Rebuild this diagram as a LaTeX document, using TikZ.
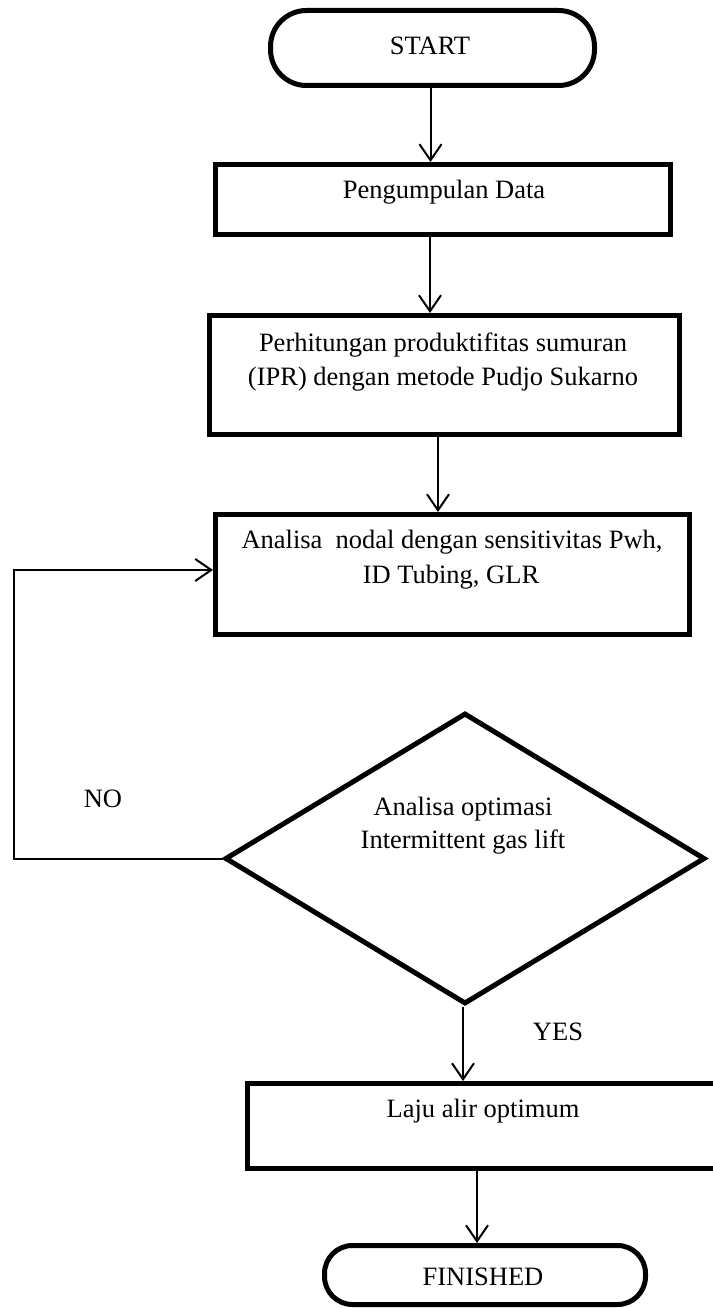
\documentclass[tikz,border=0pt]{standalone}
\usepackage{fontspec}
\setmainfont{Liberation Serif}
\usetikzlibrary{arrows.meta,shapes.geometric}
\begin{document}
\begin{tikzpicture}[x=1pt,y=-1pt,
  box/.style={draw, line width=5pt, inner sep=0pt},
  dec/.style={draw, diamond, line width=5pt, inner sep=0pt},
  txt/.style={font=\fontsize{26.5}{34}\selectfont, inner sep=0pt, anchor=base},
  conn/.style={line width=2pt, -{Straight Barb[length=16pt,width=22pt,line width=2pt]}}]
\useasboundingbox (0,0) rectangle (712,1308);

% shapes
\node[box, rounded corners=36pt, minimum width=324pt, minimum height=75pt] (start) at (432.5,48) {};
\node[box, minimum width=455pt, minimum height=70pt] (b1) at (443,199.5) {};
\node[box, minimum width=470pt, minimum height=119pt] (b2) at (444.5,375) {};
\node[box, minimum width=474pt, minimum height=120pt] (b3) at (452.5,574.5) {};
\node[dec, minimum width=480pt, minimum height=291pt] (dia) at (465,858.5) {};
\node[box, minimum width=510pt, minimum height=85pt] (b4) at (502.5,1126) {};
\node[box, rounded corners=28pt, minimum width=321pt, minimum height=59pt] (fin) at (485,1275) {};

% texts
\node[txt] (tstart) at (430,55) {START};
\node[txt] (t1) at (444,198) {Pengumpulan Data};
\node[txt] (t2a) at (443,351) {Perhitungan produktifitas sumuran};
\node[txt] (t2b) at (443,385) {(IPR) dengan metode Pudjo Sukarno};
\node[txt] (t3a) at (452,548) {Analisa~ nodal dengan sensitivitas Pwh,};
\node[txt] (t3b) at (451,583) {ID Tubing, GLR};
\node[txt] (tda) at (463,815) {Analisa optimasi};
\node[txt] (tdb) at (463,848) {Intermittent gas lift};
\node[txt] (tno) at (103,807) {NO};
\node[txt] (tyes) at (558,1040) {YES};
\node[txt] (t4) at (483,1117) {Laju alir optimum};
\node[txt] (tfin) at (483,1285) {FINISHED};

% connectors
\coordinate (loopx) at (14,0);
\draw[conn] ([xshift=-2pt]start.south) -- ([xshift=-2pt]start.south |- b1.north);
\draw[conn] ([xshift=-13pt]b1.south) -- ([xshift=-13pt]b1.south |- b2.north);
\draw[conn] ([xshift=-6.5pt]b2.south) -- ([xshift=-6.5pt]b2.south |- b3.north);
\draw[conn] ([xshift=-2pt]dia.south) -- ([xshift=-2pt]dia.south |- b4.north);
\draw[conn] ([xshift=-8pt]fin.north |- b4.south) -- ([xshift=-8pt]fin.north);
\draw[conn] (dia.west) -- (dia.west -| loopx) |- ([yshift=4.5pt]b3.west);
\end{tikzpicture}
\end{document}
